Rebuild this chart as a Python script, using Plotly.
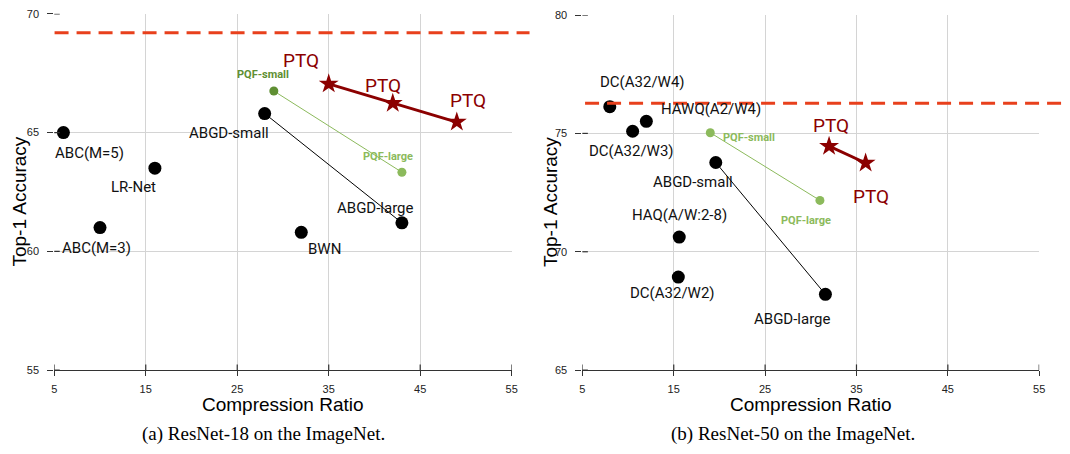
import plotly.graph_objects as go

W, H = 1070, 454

# ---------------- data: ResNet-18 (left) ----------------
r18_names = ["ABC(M=5)", "LR-Net", "ABC(M=3)", "ABGD-small", "BWN", "ABGD-large"]
r18_x = [6, 16, 10, 28, 32, 43]
r18_y = [65.0, 63.5, 61.0, 65.8, 60.8, 61.2]
r18_pqf_names = ["PQF-small", "PQF-large"]
r18_pqf_x = [29, 43]
r18_pqf_y = [66.75, 63.33]
r18_ptq_x = [35, 42, 49]
r18_ptq_y = [67.05, 66.23, 65.44]
r18_fp = 69.2

# ---------------- data: ResNet-50 (right) ----------------
r50_names = ["DC(A32/W4)", "HAWQ(A2/W4)", "DC(A32/W3)", "ABGD-small", "HAQ(A/W:2-8)", "DC(A32/W2)", "ABGD-large"]
r50_x = [8, 12, 10.5, 19.6, 15.6, 15.5, 31.6]
r50_y = [76.13, 75.51, 75.09, 73.77, 70.62, 68.93, 68.2]
r50_pqf_names = ["PQF-small", "PQF-large"]
r50_pqf_x = [19, 31]
r50_pqf_y = [75.03, 72.17]
r50_ptq_x = [32, 36]
r50_ptq_y = [74.46, 73.75]
r50_fp = 76.27

x_ticks = [5, 15, 25, 35, 45, 55]
r18_yticks = [55, 60, 65, 70]
r50_yticks = [65, 70, 75, 80]

# ---------------- styling ----------------
BLACK = "#000000"
DKRED = "#8b0000"
GREEN_D = "#5f8f33"
GREEN_L = "#8cba5c"
RED_DASH = "#e8401c"
GRID = "#d4d4d4"
LABEL_FONT = "Roboto"
AX_FONT = "Liberation Sans"

# label offsets (pixels) relative to their points
r18_off = [(26, -20), (-21, -19), (-4, -20), (-36, -19), (23, -17), (-26, 15)]
r18_pqf_off = [(-11, 16), (-14, 16)]
r18_pqf_col = [GREEN_D, GREEN_L]
r18_ptq_off = [(-28, 23), (-10, 18), (11, 22)]
r50_off = [(33, 25), (65, 12), (-1, -20), (-23, -19), (0, 22), (-6, -16), (-33, -25)]
r50_pqf_off = [(39, -5), (-14, -20)]
r50_pqf_col = [GREEN_L, GREEN_L]
r50_ptq_off = [(2, 21), (5, -34)]

fig = go.Figure()

def px2x(p):
    return p / W

def px2y(p):
    return 1 - p / H

panels = [
    dict(xa="x", ya="y", dom_x=(51.7, 513), dom_y=(8, 374), yr=(55, 70), yticks=r18_yticks,
         names=r18_names, xs=r18_x, ys=r18_y, off=r18_off,
         pn=r18_pqf_names, px=r18_pqf_x, py=r18_pqf_y, poff=r18_pqf_off, pcol=r18_pqf_col,
         tx=r18_ptq_x, ty=r18_ptq_y, toff=r18_ptq_off, fp=r18_fp, dash=(52, 531),
         abgd=(3, 5), title_x=282.7, cap="(a) ResNet-18 on the ImageNet.", cap_x=263, ytitle_x=17),
    dict(xa="x2", ya="y2", dom_x=(584.3, 1045), dom_y=(9.3, 374), yr=(65, 80), yticks=r50_yticks,
         names=r50_names, xs=r50_x, ys=r50_y, off=r50_off,
         pn=r50_pqf_names, px=r50_pqf_x, py=r50_pqf_y, poff=r50_pqf_off, pcol=r50_pqf_col,
         tx=r50_ptq_x, ty=r50_ptq_y, toff=r50_ptq_off, fp=r50_fp, dash=(587, 1070),
         abgd=(3, 6), title_x=815, cap="(b) ResNet-50 on the ImageNet.", cap_x=797, ytitle_x=552),
]

annotations = []
shapes = []

for P in panels:
    xa, ya = P["xa"], P["ya"]
    a, b = P["abgd"]
    fig.add_trace(go.Scatter(x=[P["xs"][a], P["xs"][b]], y=[P["ys"][a], P["ys"][b]], mode="lines",
                             line=dict(color=BLACK, width=1), xaxis=xa, yaxis=ya, showlegend=False,
                             hoverinfo="skip"))
    fig.add_trace(go.Scatter(x=P["px"], y=P["py"], mode="lines+markers",
                             line=dict(color=GREEN_L, width=1),
                             marker=dict(color=P["pcol"], size=9, line=dict(width=0)),
                             xaxis=xa, yaxis=ya, showlegend=False))
    fig.add_trace(go.Scatter(x=P["xs"], y=P["ys"], mode="markers",
                             marker=dict(color=BLACK, size=13, line=dict(width=0)),
                             xaxis=xa, yaxis=ya, showlegend=False))
    fig.add_trace(go.Scatter(x=P["tx"], y=P["ty"], mode="lines+markers",
                             line=dict(color=DKRED, width=3),
                             marker=dict(color=DKRED, size=15, symbol="star", line=dict(width=0)),
                             xaxis=xa, yaxis=ya, showlegend=False))
    for n, x, y, (dx, dy) in zip(P["names"], P["xs"], P["ys"], P["off"]):
        annotations.append(dict(x=x, y=y, xref=xa, yref=ya, text=n, showarrow=False,
                                xshift=dx, yshift=dy, font=dict(family=LABEL_FONT, size=15, color="#111")))
    for n, x, y, (dx, dy), c in zip(P["pn"], P["px"], P["py"], P["poff"], P["pcol"]):
        annotations.append(dict(x=x, y=y, xref=xa, yref=ya, text="<b>%s</b>" % n, showarrow=False,
                                xshift=dx, yshift=dy, font=dict(family=LABEL_FONT, size=11, color=c)))
    for x, y, (dx, dy) in zip(P["tx"], P["ty"], P["toff"]):
        annotations.append(dict(x=x, y=y, xref=xa, yref=ya, text="PTQ", showarrow=False,
                                xshift=dx, yshift=dy, font=dict(family=LABEL_FONT, size=19, color=DKRED)))
    shapes.append(dict(type="line", xref="paper", yref=ya, x0=px2x(P["dash"][0]), x1=px2x(P["dash"][1]),
                       y0=P["fp"], y1=P["fp"], line=dict(color=RED_DASH, width=3, dash="14px,8px"),
                       layer="above"))
    for t in x_ticks:
        shapes.append(dict(type="line", xref=xa, yref=ya + " domain", x0=t, x1=t, y0=0, y1=0.016,
                           line=dict(color="#333", width=1.2), layer="above"))
    for t in P["yticks"]:
        shapes.append(dict(type="line", xref=xa + " domain", yref=ya, x0=0, x1=0.012, y0=t, y1=t,
                           line=dict(color="#333", width=1.2), layer="above"))
    annotations.append(dict(x=px2x(P["title_x"]), y=px2y(409), xref="paper", yref="paper",
                            text="Compression Ratio", showarrow=False, xanchor="center", yanchor="middle",
                            font=dict(family=AX_FONT, size=19, color="#000")))
    annotations.append(dict(x=px2x(P["ytitle_x"]), y=px2y(201), xref="paper", yref="paper",
                            text="Top-1 Accuracy", showarrow=False, textangle=-90,
                            xanchor="center", yanchor="middle",
                            font=dict(family=AX_FONT, size=19, color="#000")))
    annotations.append(dict(x=px2x(P["cap_x"]), y=px2y(440), xref="paper", yref="paper",
                            text=P["cap"], showarrow=False, xanchor="center", yanchor="middle",
                            font=dict(family="Liberation Serif", size=19, color="#000")))

xaxis_common = dict(range=[5, 55], tickvals=x_ticks, showgrid=True, gridcolor=GRID, gridwidth=1,
                    zeroline=False, showline=True, linecolor="#333", linewidth=1.3,
                    ticks="outside", ticklen=5, tickcolor="#333", tickwidth=1.2,
                    ticklabelstandoff=4,
                    tickfont=dict(family=AX_FONT, size=11, color="#222"))
yaxis_common = dict(showgrid=True, gridcolor=GRID, gridwidth=1, zeroline=False, showline=False,
                    ticks="outside", ticklen=6, tickcolor="#333", tickwidth=1.2,
                    ticklabelstandoff=6,
                    tickfont=dict(family=AX_FONT, size=11, color="#222"))

P0, P1 = panels
fig.update_layout(
    width=W, height=H, margin=dict(l=0, r=0, t=0, b=0),
    paper_bgcolor="white", plot_bgcolor="white", showlegend=False,
    xaxis=dict(domain=[px2x(P0["dom_x"][0]), px2x(P0["dom_x"][1])], anchor="y", **xaxis_common),
    yaxis=dict(domain=[px2y(P0["dom_y"][1]), px2y(P0["dom_y"][0])], anchor="x", range=list(P0["yr"]),
               tickvals=P0["yticks"], **yaxis_common),
    xaxis2=dict(domain=[px2x(P1["dom_x"][0]), px2x(P1["dom_x"][1])], anchor="y2", **xaxis_common),
    yaxis2=dict(domain=[px2y(P1["dom_y"][1]), px2y(P1["dom_y"][0])], anchor="x2", range=list(P1["yr"]),
                tickvals=P1["yticks"], **yaxis_common),
    annotations=annotations, shapes=shapes,
)

fig.write_html("out.html", config={"displayModeBar": False},
               post_script="document.body.style.margin='0';document.body.style.overflow='hidden';")
